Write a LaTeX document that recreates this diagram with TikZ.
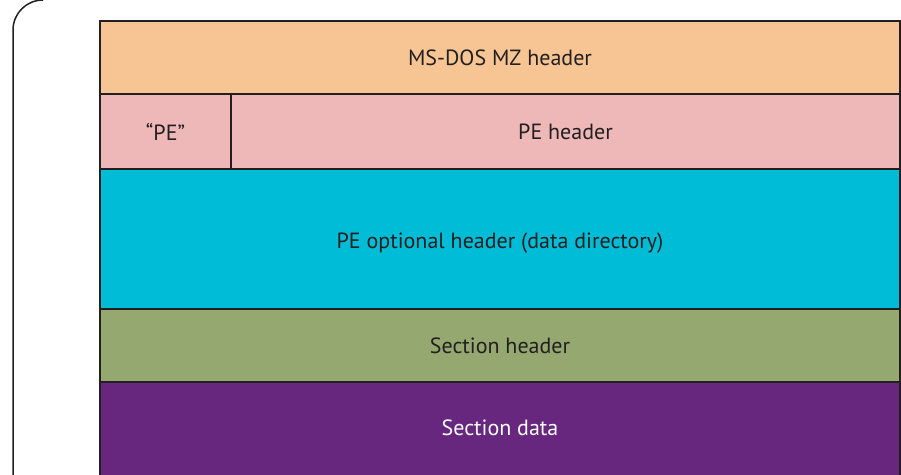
\documentclass[tikz,border=0pt]{standalone}
\usepackage{fontspec}
\setmainfont{PT Sans}
\definecolor{bordc}{HTML}{231F20}
\definecolor{mzc}{HTML}{F7C594}
\definecolor{pec}{HTML}{EDB8B7}
\definecolor{optc}{HTML}{00BCD6}
\definecolor{shc}{HTML}{95A86F}
\definecolor{sdc}{HTML}{68277F}
\tikzset{
  blk/.style={draw=bordc, line width=1.5pt},
  lbl/.style={font=\fontsize{22}{26}\selectfont, text=bordc},
}
\begin{document}
\begin{tikzpicture}[x=1pt,y=-1pt]
\useasboundingbox (0,0) rectangle (901,474);
\begin{scope}
\clip (0,0) rectangle (901,474);
% frame
\draw[bordc, line width=1.5pt] (13,480) -- (13,30) arc[start angle=180, end angle=270, radius=30];
% blocks
\path[blk, fill=sdc] (100,382) rectangle (900,480);
\path[blk, fill=shc] (100,309) rectangle (900,382);
\path[blk, fill=optc] (100,169) rectangle (900,309);
\path[blk, fill=pec] (100,94) rectangle (231,169);
\path[blk, fill=pec] (231,94) rectangle (900,169);
\path[blk, fill=mzc] (100,21) rectangle (900,94);
\end{scope}
\node[lbl] (mz) at (500,57.5) {MS-DOS MZ header};
\node[lbl] (pes) at (165.5,131.5) {“PE”};
\node[lbl] (peh) at (565.5,131.5) {PE header};
\node[lbl] (opt) at (500,243) {PE optional header (data directory)};
\node[lbl] (sh) at (500,346) {Section header};
\node[lbl, text=white] (sd) at (500,428) {Section data};
\end{tikzpicture}
\end{document}
